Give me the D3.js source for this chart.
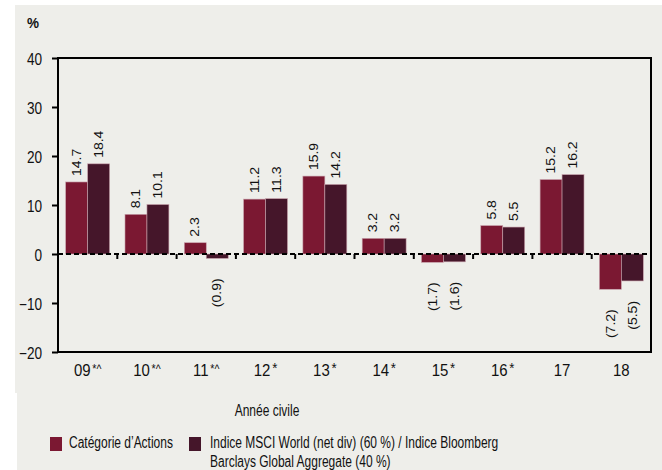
<!DOCTYPE html>
<html>
<head>
<meta charset="utf-8">
<script src="https://cdn.jsdelivr.net/npm/d3@7"></script>
<style>
  body { margin: 0; background: #ffffff; }
  svg text { font-family: "Liberation Sans", Arial, sans-serif; fill: #111; }
</style>
</head>
<body>
<div id="chart"></div>
<script>
const categories = ["09", "10", "11", "12", "13", "14", "15", "16", "17", "18"];
const tickMarks = ["*^", "*^", "*^", "*", "*", "*", "*", "*", "", ""];
const actions = [14.7, 8.1, 2.3, 11.2, 15.9, 3.2, -1.7, 5.8, 15.2, -7.2];
const benchmark = [18.4, 10.1, -0.9, 11.3, 14.2, 3.2, -1.6, 5.5, 16.2, -5.5];
const seriesNames = ["Catégorie d’Actions", "Indice MSCI World (net div) (60 %) / Indice Bloomberg", "Barclays Global Aggregate (40 %)"];
const yTicks = [40, 30, 20, 10, 0, -10, -20];
const colors = ["#7b1832", "#45162a"];

const width = 662, height = 470;
const plot = { left: 58, right: 651, top: 58, bottom: 352 };

const svg = d3.select("#chart").append("svg")
    .attr("width", width)
    .attr("height", height);

// the source text is a condensed face, so squeeze it horizontally
function squeezed(sel, x, y, sx) {
    return sel.attr("x", 0).attr("y", 0)
        .attr("transform", `translate(${x},${y}) scale(${sx},1)`);
}

// grey backdrop
svg.append("rect").attr("x", 15).attr("y", 5).attr("width", width - 15).attr("height", 388).attr("fill", "#eeeeea");
svg.append("rect").attr("x", 17).attr("y", 392).attr("width", width - 17).attr("height", height - 392).attr("fill", "#eeeeea");

const yScale = d3.scaleLinear().domain([-20, 40]).range([plot.bottom, plot.top]);
const xScale = d3.scaleBand().domain(categories).range([plot.left, plot.right]).padding(0);
const xSub = d3.scaleBand().domain([0, 1]).range([0, xScale.bandwidth()]).paddingInner(0).paddingOuter(0.35);

const rows = categories.map((c, i) => ({ cat: c, vals: [actions[i], benchmark[i]] }));

// bars
const groups = svg.append("g").selectAll("g")
    .data(rows)
    .enter().append("g")
    .attr("transform", d => `translate(${xScale(d.cat)},0)`);

groups.selectAll("rect")
    .data(d => d.vals.map((v, k) => ({ v, k })))
    .enter().append("rect")
    .attr("x", d => xSub(d.k))
    .attr("width", xSub.bandwidth())
    .attr("y", d => yScale(Math.max(0, d.v)))
    .attr("height", d => Math.abs(yScale(d.v) - yScale(0)))
    .attr("fill", d => colors[d.k])
    .attr("stroke", "#c9a3ad")
    .attr("stroke-width", 0.6);

// value labels (rotated)
groups.selectAll("text")
    .data(d => d.vals.map((v, k) => ({ v, k })))
    .enter().append("text")
    .attr("transform", d => {
        const x = xSub(d.k) + xSub.bandwidth() / 2;
        const y = d.v >= 0 ? yScale(d.v) - 6 : yScale(d.v) + 20;
        return `translate(${x},${y}) rotate(-90) scale(1,0.85)`;
    })
    .attr("dy", "0.35em")
    .attr("text-anchor", d => d.v >= 0 ? "start" : "end")
    .style("font-size", "14px")
    .text(d => d.v >= 0 ? d.v.toFixed(1) : `(${Math.abs(d.v).toFixed(1)})`);

// frame
svg.append("rect")
    .attr("x", plot.left).attr("y", plot.top)
    .attr("width", plot.right - plot.left).attr("height", plot.bottom - plot.top)
    .attr("fill", "none").attr("stroke", "#000").attr("stroke-width", 2);

// y axis
const yAxis = d3.axisLeft(yScale).tickValues(yTicks).tickSize(6).tickFormat(d3.format("d"));
const yG = svg.append("g")
    .attr("transform", `translate(${plot.left},0)`)
    .call(yAxis);
yG.select(".domain").remove();
yG.selectAll(".tick line").attr("stroke", "#000").attr("stroke-width", 2);
yG.selectAll(".tick text")
    .style("font-size", "16px")
    .attr("dy", "0.42em")
    .attr("x", 0)
    .attr("transform", "translate(-16,0) scale(0.85,1)");

// zero line, dashed
svg.append("line")
    .attr("x1", plot.left).attr("x2", plot.right)
    .attr("y1", yScale(0)).attr("y2", yScale(0))
    .attr("stroke", "#000").attr("stroke-width", 2).attr("stroke-dasharray", "5,3");

// small ticks at category edges on zero line
svg.append("g").selectAll("line")
    .data(categories.slice(1))
    .enter().append("line")
    .attr("x1", d => xScale(d)).attr("x2", d => xScale(d))
    .attr("y1", yScale(0)).attr("y2", yScale(0) + 5)
    .attr("stroke", "#000").attr("stroke-width", 2);

// x axis labels
const xAxis = d3.axisBottom(xScale).tickSize(0).tickPadding(0);
const xG = svg.append("g")
    .attr("transform", `translate(0,${plot.bottom})`)
    .call(xAxis);
xG.select(".domain").remove();
xG.selectAll(".tick text").remove();
xG.selectAll(".tick").append("text")
    .attr("transform", "translate(0,24) scale(0.88,1)")
    .attr("text-anchor", "middle")
    .style("font-size", "17px")
    .each(function (d, i) {
        const t = d3.select(this);
        t.append("tspan").text(d);
        if (tickMarks[i]) {
            t.append("tspan").attr("dx", 2).attr("dy", -3)
                .style("font-size", tickMarks[i] === "*" ? "15px" : "12px").text(tickMarks[i]);
        }
    });

// "%" unit
squeezed(svg.append("text"), 27, 28, 0.9)
    .style("font-size", "15px").style("font-weight", "bold").text("%");

// x title
squeezed(svg.append("text"), 267, 416, 0.75)
    .attr("text-anchor", "middle").style("font-size", "16px").text("Année civile");

// legend
const legend = svg.append("g");
legend.append("rect").attr("x", 50).attr("y", 437).attr("width", 12).attr("height", 14).attr("fill", colors[0]);
squeezed(legend.append("text"), 69, 448, 0.75).style("font-size", "16px").text(seriesNames[0]);
legend.append("rect").attr("x", 189).attr("y", 437).attr("width", 12).attr("height", 14).attr("fill", colors[1]);
squeezed(legend.append("text"), 210, 448, 0.75).style("font-size", "16px").text(seriesNames[1]);
squeezed(legend.append("text"), 210, 467, 0.75).style("font-size", "16px").text(seriesNames[2]);
</script>
</body>
</html>
